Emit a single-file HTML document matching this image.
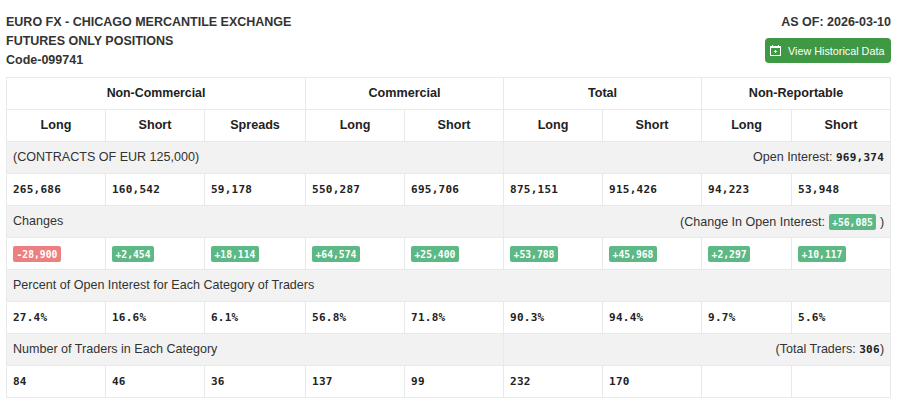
<!DOCTYPE html>
<html>
<head>
<meta charset="utf-8">
<style>
html,body{margin:0;padding:0;background:#fff;}
body{width:900px;height:407px;overflow:hidden;position:relative;font-family:"Liberation Sans",Arial,sans-serif;color:#333;}
.title{position:absolute;left:6px;top:13px;font-size:12.5px;font-weight:bold;line-height:18.8px;color:#333;}
.asof{position:absolute;right:9px;top:13px;font-size:12.5px;font-weight:bold;line-height:19px;color:#333;}
.btn{position:absolute;left:765px;top:38px;width:126px;height:25px;background:#3f9843;border-radius:4px;color:#fff;font-size:10.8px;line-height:26px;box-sizing:border-box;padding-left:23px;}
.btn svg{position:absolute;left:5px;top:7px;}
table{position:absolute;left:6px;top:77px;border-collapse:collapse;table-layout:fixed;width:884px;}
td,th{border:1px solid #e9e9e9;height:32px;padding:0 6px;box-sizing:border-box;}
th{padding-bottom:2px;font-size:12.6px;font-weight:bold;text-align:center;color:#222;}
.g td{padding-bottom:2px;background:#f2f2f2;font-size:12.55px;color:#333;}
.n td{font-family:"DejaVu Sans Mono",monospace;font-weight:bold;font-size:11px;letter-spacing:0.25px;color:#222;}
.r{text-align:right;}
.b{display:inline-block;letter-spacing:0;font-family:"DejaVu Sans Mono",monospace;font-weight:bold;font-size:9.7px;color:#fff;padding:1px 3.5px 0;line-height:15px;border-radius:2px;}
.bg{background:#5cb885;}
.br{background:#ec8080;}
.m{font-family:"DejaVu Sans Mono",monospace;font-weight:bold;color:#222;font-size:11px;letter-spacing:0.25px;}
</style>
</head>
<body>
<div class="title">EURO FX - CHICAGO MERCANTILE EXCHANGE<br>FUTURES ONLY POSITIONS<br>Code-099741</div>
<div class="asof">AS OF: 2026-03-10</div>
<div class="btn"><svg width="11" height="11" viewBox="0 0 11 11" shape-rendering="crispEdges"><path d="M0 1h11v2h-11zM0 3h1v8h-1zM10 3h1v8h-1zM0 10h11v1h-11zM2 0h1v1h-1zM8 0h1v1h-1z" fill="#fff"/><path d="M5 5h1v3h-1zM4 6h3v1h-3z" fill="#fff" opacity="0.9"/></svg>View Historical Data</div>
<table>
<colgroup><col style="width:99px"><col style="width:99px"><col style="width:101px"><col style="width:99px"><col style="width:99px"><col style="width:99px"><col style="width:99px"><col style="width:90px"><col style="width:99px"></colgroup>
<tr><th colspan="3" style="font-size:12.35px">Non-Commercial</th><th colspan="2">Commercial</th><th colspan="2">Total</th><th colspan="2">Non-Reportable</th></tr>
<tr><th>Long</th><th>Short</th><th>Spreads</th><th>Long</th><th>Short</th><th>Long</th><th>Short</th><th>Long</th><th>Short</th></tr>
<tr class="g"><td colspan="5">(CONTRACTS OF EUR 125,000)</td><td colspan="4" class="r">Open Interest: <span class="m">969,374</span></td></tr>
<tr class="n"><td>265,686</td><td>160,542</td><td>59,178</td><td>550,287</td><td>695,706</td><td>875,151</td><td>915,426</td><td>94,223</td><td>53,948</td></tr>
<tr class="g"><td colspan="5">Changes</td><td colspan="4" class="r" style="padding-bottom:0">(Change In Open Interest: <span class="b bg">+56,085</span> )</td></tr>
<tr class="n"><td><span class="b br">-28,900</span></td><td><span class="b bg">+2,454</span></td><td><span class="b bg">+18,114</span></td><td><span class="b bg">+64,574</span></td><td><span class="b bg">+25,400</span></td><td><span class="b bg">+53,788</span></td><td><span class="b bg">+45,968</span></td><td><span class="b bg">+2,297</span></td><td><span class="b bg">+10,117</span></td></tr>
<tr class="g"><td colspan="9">Percent of Open Interest for Each Category of Traders</td></tr>
<tr class="n"><td>27.4%</td><td>16.6%</td><td>6.1%</td><td>56.8%</td><td>71.8%</td><td>90.3%</td><td>94.4%</td><td>9.7%</td><td>5.6%</td></tr>
<tr class="g"><td colspan="5">Number of Traders in Each Category</td><td colspan="4" class="r">(Total Traders: <span class="m">306</span>)</td></tr>
<tr class="n"><td>84</td><td>46</td><td>36</td><td>137</td><td>99</td><td>232</td><td>170</td><td></td><td></td></tr>
</table>
</body>
</html>
